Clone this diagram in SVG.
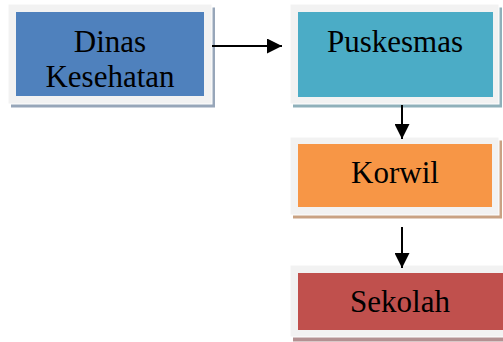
<svg xmlns="http://www.w3.org/2000/svg" width="503" height="342" viewBox="0 0 503 342">
<style>
.frame{fill:#f2f2f2;stroke:#ffffff;stroke-width:1}
.lbl{font-family:"Liberation Serif","Times New Roman",serif;font-size:31px;fill:#000000;text-anchor:middle}
.conn{stroke:#000000;stroke-width:2;fill:none}
</style>
<defs>
<marker id="ah" markerWidth="15" markerHeight="15" viewBox="0 0 15 15" refX="15" refY="7.5" orient="auto" markerUnits="userSpaceOnUse">
<path d="M0,0 L15,7.5 L0,15 Z" fill="#000000"/>
</marker>
</defs>
<rect width="503" height="342" fill="#ffffff"/>
<g id="dinas">
<rect x="11" y="7.5" width="204" height="100" fill="#97a6b9"/>
<rect class="frame" x="8" y="4" width="204" height="100"/>
<rect x="16" y="12" width="188" height="84" fill="#4f81bd"/>
<text class="lbl" x="110" y="52">Dinas</text>
<text class="lbl" x="110" y="87">Kesehatan</text>
</g>
<g id="puskesmas">
<rect x="293" y="7.5" width="209" height="100" fill="#8fb0ba"/>
<rect class="frame" x="290" y="4" width="209" height="100"/>
<rect x="298" y="12" width="195" height="85" fill="#4bacc6"/>
<text class="lbl" x="395" y="52">Puskesmas</text>
</g>
<g id="korwil">
<rect x="293" y="140.5" width="209" height="78" fill="#c9a283"/>
<rect class="frame" x="290" y="137" width="209" height="78"/>
<rect x="298" y="144" width="194" height="63" fill="#f79646"/>
<text class="lbl" x="395" y="183">Korwil</text>
</g>
<g id="sekolah">
<rect x="293" y="268.5" width="220" height="73" fill="#b39192"/>
<rect class="frame" x="290" y="265" width="220" height="72"/>
<rect x="298" y="273" width="210" height="57" fill="#c0504d"/>
<text class="lbl" x="400" y="312">Sekolah</text>
</g>
<g id="connectors">
<line class="conn" x1="212" y1="46" x2="282" y2="46" marker-end="url(#ah)"/>
<line class="conn" x1="402" y1="105" x2="402" y2="139" marker-end="url(#ah)"/>
<line class="conn" x1="402" y1="227" x2="402" y2="268" marker-end="url(#ah)"/>
</g>
</svg>
